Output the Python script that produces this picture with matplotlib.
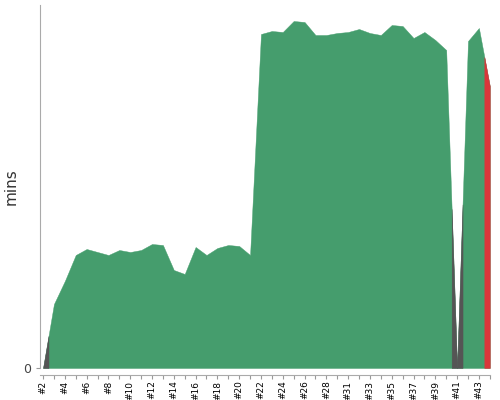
import numpy as np
import matplotlib
matplotlib.use("Agg")
import matplotlib.pyplot as plt

# build numbers and durations (arbitrary units of "mins")
builds = [2, 3, 4, 5, 6, 7, 8, 9, 10, 11, 12, 13, 14, 15, 16, 17, 18, 19, 20, 21,
          22, 23, 24, 25, 26, 27, 28, 30, 31, 32, 33, 34, 35, 36, 37, 38, 39, 40,
          41, 42, 43, 44]
durations = [0, 64, 87, 113, 119, 116, 113, 118, 116, 118, 124, 123, 98, 94, 121,
             113, 120, 123, 122, 113, 334, 337, 336, 347, 346, 333, 333, 335, 336,
             339, 335, 333, 343, 342, 330, 336, 328, 318, 0, 327, 340, 282]
# build result: S = success, A = aborted, F = failed
status = ["A"] + ["S"] * 37 + ["A", "S", "S", "F"]

colors = {"S": "#459d6d", "A": "#555555", "F": "#d8363a"}

labels = ["#%d" % b for b in builds]
n = len(builds)
idx = np.arange(n)
vals = np.array(durations, dtype=float)

fig = plt.figure(figsize=(5, 4), dpi=100)
ax = fig.add_axes([0.08, 0.08, 0.90, 0.9075])

# whole area green first, then the other builds on top
# (each build colours the area half way to its neighbours)
ax.fill_between(idx, 0, vals, facecolor=colors["S"], edgecolor=colors["S"], linewidth=0.3)
for i in range(n):
    if status[i] == "S":
        continue
    left = max(i - 0.5, 0)
    right = min(i + 0.5, n - 1)
    xs = np.array(sorted(set([left, i, right])))
    ys = np.interp(xs, idx, vals)
    c = colors[status[i]]
    ax.fill_between(xs, 0, ys, facecolor=c, edgecolor=c, linewidth=0.3)

ax.set_xlim(-0.28, n - 1 + 0.02)
ax.set_ylim(0, 363)

ax.set_xticks(idx)
ax.set_xticklabels([l if k % 2 == 0 else "" for k, l in enumerate(labels)])
ax.tick_params(axis="x", length=3, color="#999999", pad=1, labelsize=6.5,
               labelrotation=90)
ax.set_yticks([0])
ax.tick_params(axis="y", length=3, color="#999999", labelsize=9, labelcolor="#444444")

for s in ["top", "right"]:
    ax.spines[s].set_visible(False)
ax.spines["left"].set_color("#aaaaaa")
ax.spines["bottom"].set_color("#aaaaaa")
ax.spines["bottom"].set_position(("outward", 5))

ax.set_ylabel("mins", fontsize=11, color="#333333")
ax.yaxis.set_label_coords(-0.047, 0.5)

plt.savefig("out.png")
